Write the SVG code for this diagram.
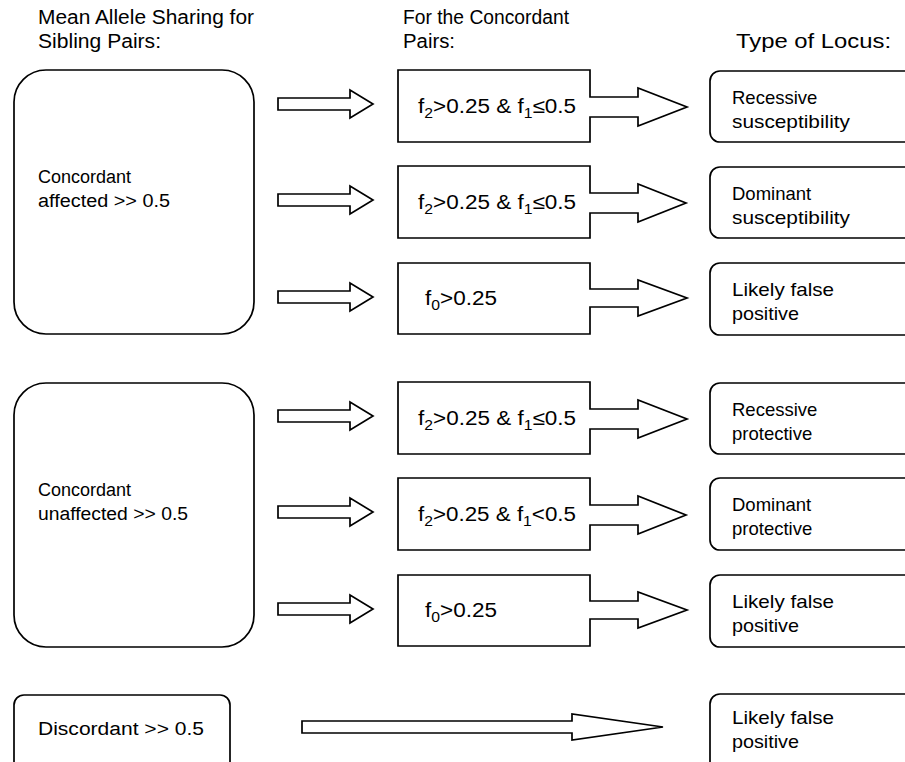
<svg xmlns="http://www.w3.org/2000/svg" width="905" height="762" viewBox="0 0 905 762">
<style>
.b{fill:#fff;stroke:#000;stroke-width:1.7}
.a{fill:#fff;stroke:#000;stroke-width:1.7;stroke-linejoin:miter}
text{font-family:"Liberation Sans",Arial,Helvetica,sans-serif;font-size:18px;fill:#000}
.h{font-size:20px}
.m{font-size:20px}
.r{font-size:18.5px}
.s{font-size:14px}
</style>
<rect width="905" height="762" fill="#fff"/>
<g id="headers">
<text class="h" x="38" y="24" textLength="216" lengthAdjust="spacingAndGlyphs">Mean Allele Sharing for</text>
<text class="h" x="38" y="48" textLength="123" lengthAdjust="spacingAndGlyphs">Sibling Pairs:</text>
<text class="h" x="403" y="24" textLength="166" lengthAdjust="spacingAndGlyphs">For the Concordant</text>
<text class="h" x="403" y="48" textLength="52" lengthAdjust="spacingAndGlyphs">Pairs:</text>
<text class="h" x="736" y="48" textLength="155" lengthAdjust="spacingAndGlyphs">Type of Locus:</text>
</g>
<g id="connectors">
<path class="a" d="M278,98 H350 V90 L373,104 L350,118 V110 H278 Z"/>
<path class="a" d="M278,194 H350 V186 L373,200 L350,214 V206 H278 Z"/>
<path class="a" d="M278,291 H350 V283 L373,297 L350,311 V303 H278 Z"/>
<path class="a" d="M278,410 H350 V402 L373,416 L350,430 V422 H278 Z"/>
<path class="a" d="M278,506 H350 V498 L373,512 L350,526 V518 H278 Z"/>
<path class="a" d="M278,603 H350 V595 L373,609 L350,623 V615 H278 Z"/>
<path class="a" d="M302,721 H572 V714 L663,727 L572,740 V733 H302 Z"/>
</g>
<g id="concordant-affected">
<rect class="b" x="14" y="70" width="240" height="264" rx="32"/>
<text x="38" y="183">Concordant</text>
<text x="38" y="207" textLength="132" lengthAdjust="spacingAndGlyphs">affected &gt;&gt; 0.5</text>
</g>
<g id="concordant-unaffected">
<rect class="b" x="14" y="383" width="240" height="264" rx="32"/>
<text x="38" y="496">Concordant</text>
<text x="38" y="520" textLength="150" lengthAdjust="spacingAndGlyphs">unaffected &gt;&gt; 0.5</text>
</g>
<g id="discordant">
<rect class="b" x="14" y="695" width="216" height="80" rx="10"/>
<text x="38" y="735" textLength="166" lengthAdjust="spacingAndGlyphs">Discordant &gt;&gt; 0.5</text>
</g>
<g id="cond1">
<path class="a" d="M398,70 H590 V97 H638 V88 L687,107 L638,126 V117 H590 V142 H398 Z"/>
<text class="m" x="418" y="113" textLength="158" lengthAdjust="spacingAndGlyphs">f<tspan class="s" dy="5">2</tspan><tspan dy="-5">&gt;0.25 &amp; f</tspan><tspan class="s" dy="5">1</tspan><tspan dy="-5">≤0.5</tspan></text>
</g>
<g id="cond2">
<path class="a" d="M398,166 H590 V193 H638 V184 L686,203 L638,222 V213 H590 V238 H398 Z"/>
<text class="m" x="418" y="209" textLength="158" lengthAdjust="spacingAndGlyphs">f<tspan class="s" dy="5">2</tspan><tspan dy="-5">&gt;0.25 &amp; f</tspan><tspan class="s" dy="5">1</tspan><tspan dy="-5">≤0.5</tspan></text>
</g>
<g id="cond3">
<path class="a" d="M398,263 H590 V289 H638 V280 L687,298 L638,316 V307 H590 V334 H398 Z"/>
<text class="m" x="425" y="305" textLength="72" lengthAdjust="spacingAndGlyphs">f<tspan class="s" dy="5">0</tspan><tspan dy="-5">&gt;0.25</tspan></text>
</g>
<g id="cond4">
<path class="a" d="M398,382 H590 V409 H638 V400 L687,419 L638,438 V429 H590 V454 H398 Z"/>
<text class="m" x="418" y="425" textLength="158" lengthAdjust="spacingAndGlyphs">f<tspan class="s" dy="5">2</tspan><tspan dy="-5">&gt;0.25 &amp; f</tspan><tspan class="s" dy="5">1</tspan><tspan dy="-5">≤0.5</tspan></text>
</g>
<g id="cond5">
<path class="a" d="M398,478 H590 V505 H638 V496 L686,515 L638,534 V525 H590 V550 H398 Z"/>
<text class="m" x="418" y="521" textLength="158" lengthAdjust="spacingAndGlyphs">f<tspan class="s" dy="5">2</tspan><tspan dy="-5">&gt;0.25 &amp; f</tspan><tspan class="s" dy="5">1</tspan><tspan dy="-5">&lt;0.5</tspan></text>
</g>
<g id="cond6">
<path class="a" d="M398,575 H590 V601 H638 V592 L687,610 L638,628 V619 H590 V646 H398 Z"/>
<text class="m" x="425" y="617" textLength="72" lengthAdjust="spacingAndGlyphs">f<tspan class="s" dy="5">0</tspan><tspan dy="-5">&gt;0.25</tspan></text>
</g>
<g id="locus1">
<rect class="b" x="710" y="71" width="220" height="71" rx="10"/>
<text class="r" x="732" y="104">Recessive</text>
<text class="r" x="732" y="128" textLength="118" lengthAdjust="spacingAndGlyphs">susceptibility</text>
</g>
<g id="locus2">
<rect class="b" x="710" y="167" width="220" height="71" rx="10"/>
<text class="r" x="732" y="200">Dominant</text>
<text class="r" x="732" y="224" textLength="118" lengthAdjust="spacingAndGlyphs">susceptibility</text>
</g>
<g id="locus3">
<rect class="b" x="710" y="263" width="220" height="72" rx="10"/>
<text class="r" x="732" y="296" textLength="102" lengthAdjust="spacingAndGlyphs">Likely false</text>
<text class="r" x="732" y="320" textLength="67" lengthAdjust="spacingAndGlyphs">positive</text>
</g>
<g id="locus4">
<rect class="b" x="710" y="383" width="220" height="71" rx="10"/>
<text class="r" x="732" y="416">Recessive</text>
<text class="r" x="732" y="440">protective</text>
</g>
<g id="locus5">
<rect class="b" x="710" y="478" width="220" height="72" rx="10"/>
<text class="r" x="732" y="511">Dominant</text>
<text class="r" x="732" y="535">protective</text>
</g>
<g id="locus6">
<rect class="b" x="710" y="575" width="220" height="72" rx="10"/>
<text class="r" x="732" y="608" textLength="102" lengthAdjust="spacingAndGlyphs">Likely false</text>
<text class="r" x="732" y="632" textLength="67" lengthAdjust="spacingAndGlyphs">positive</text>
</g>
<g id="locus7">
<rect class="b" x="710" y="694" width="220" height="80" rx="10"/>
<text class="r" x="732" y="724" textLength="102" lengthAdjust="spacingAndGlyphs">Likely false</text>
<text class="r" x="732" y="748" textLength="67" lengthAdjust="spacingAndGlyphs">positive</text>
</g>
</svg>
